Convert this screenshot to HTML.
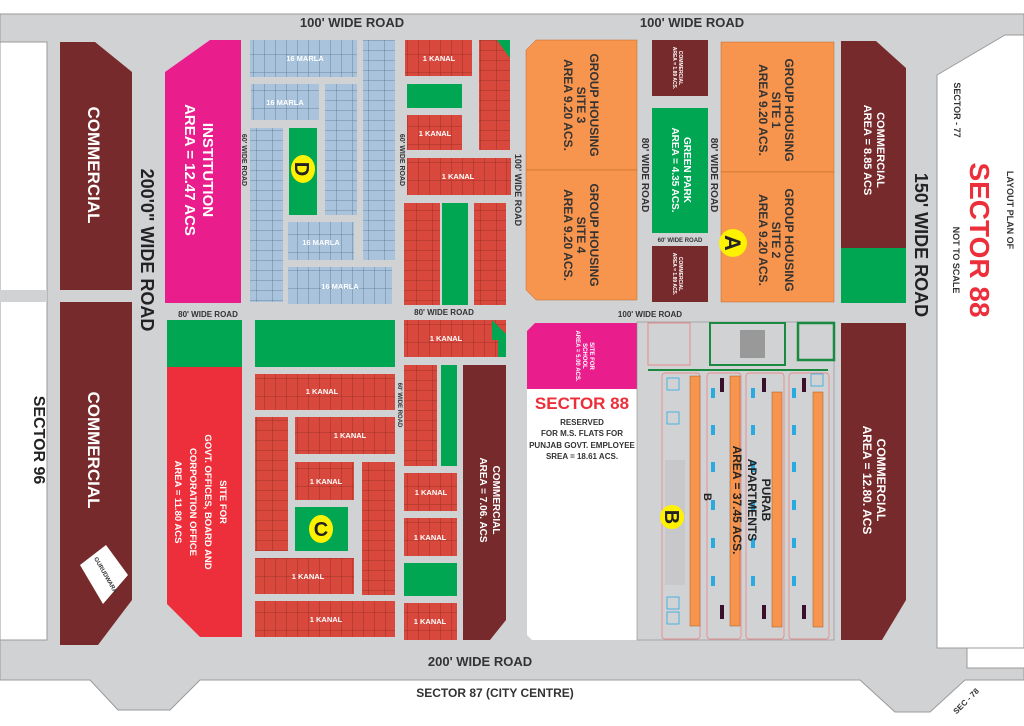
<!DOCTYPE html>
<html><head><meta charset="utf-8"><style>
html,body{margin:0;padding:0;background:#fff;}
svg{display:block}
text{font-family:"Liberation Sans",sans-serif;font-weight:bold}
</style></head><body>
<svg width="1024" height="726" viewBox="0 0 1024 726" xmlns="http://www.w3.org/2000/svg">
<defs>
<pattern id="rp" width="11" height="18" patternUnits="userSpaceOnUse"><rect width="11" height="18" fill="#d8483c"/><path d="M0 0H11M0 0V18" stroke="#8e2b22" stroke-width="0.8"/></pattern>
<pattern id="bp" width="11" height="18" patternUnits="userSpaceOnUse"><rect width="11" height="18" fill="#a8c3db"/><path d="M0 0H11M0 0V18" stroke="#55758f" stroke-width="0.8"/></pattern>
<pattern id="rpv" width="16" height="10" patternUnits="userSpaceOnUse"><rect width="16" height="10" fill="#d8483c"/><path d="M0 0H16M0 0V10" stroke="#8e2b22" stroke-width="0.8"/></pattern>
<pattern id="bpv" width="16" height="10" patternUnits="userSpaceOnUse"><rect width="16" height="10" fill="#a8c3db"/><path d="M0 0H16M0 0V10" stroke="#55758f" stroke-width="0.8"/></pattern>
</defs>
<rect width="1024" height="726" fill="#fff"/>
<polygon points="0,14 1024,14 1024,648 967,648 967,668 1024,668 1024,680 965,680 930,712 895,712 860,680 200,680 170,710 118,710 90,680 0,680" fill="#d1d2d4" stroke="#9a9a9a" stroke-width="1"/>
<rect x="0" y="42" width="47" height="598" fill="#fff" stroke="#9a9a9a"/>
<rect x="0" y="290" width="47" height="12" fill="#d1d2d4"/>
<polygon points="937,75 1005,35 1024,35 1024,648 937,648" fill="#fff" stroke="#9a9a9a"/>

<polygon points="60,42 95,42 132,72 132,290 60,290" fill="#772a2b"/>
<polygon points="60,302 132,302 132,600 98,645 60,645" fill="#772a2b"/>
<polygon points="80,565 106,545 128,575 103,604" fill="#fff"/>
<text transform="translate(104,576) rotate(60)" font-size="6" fill="#333" text-anchor="middle">GURUDWARA</text>
<text transform="translate(88,165) rotate(90)" font-size="17" fill="#fff" text-anchor="middle">COMMERCIAL</text>
<text transform="translate(88,450) rotate(90)" font-size="17" fill="#fff" text-anchor="middle">COMMERCIAL</text>
<text transform="translate(34,440) rotate(90)" font-size="16" fill="#222" text-anchor="middle">SECTOR 96</text>
<text transform="translate(141,250) rotate(90)" font-size="18" fill="#222" text-anchor="middle">200'0" WIDE ROAD</text>

<polygon points="210,40 241,40 241,303 165,303 165,72" fill="#e91e8c"/>
<text transform="translate(203,170) rotate(90)" font-size="15" fill="#fff" text-anchor="middle">INSTITUTION</text>
<text transform="translate(185,170) rotate(90)" font-size="15" fill="#fff" text-anchor="middle">AREA = 12.47 ACS</text>
<rect x="167" y="320" width="75" height="47" fill="#00a651"/>
<polygon points="167,367 242,367 242,637 200,637 167,604" fill="#ec2f3a"/>
<text transform="translate(220,502) rotate(90)" font-size="9.5" fill="#fff" text-anchor="middle">SITE FOR</text>
<text transform="translate(205,502) rotate(90)" font-size="9.5" fill="#fff" text-anchor="middle">GOVT. OFFICES, BOARD AND</text>
<text transform="translate(190,502) rotate(90)" font-size="9.5" fill="#fff" text-anchor="middle">CORPORATION OFFICE</text>
<text transform="translate(175,502) rotate(90)" font-size="9.5" fill="#fff" text-anchor="middle">AREA = 11.80 ACS</text>

<rect x="250" y="40" width="107" height="37" fill="url(#bp)"/>
<rect x="363" y="40" width="32" height="220" fill="url(#bpv)"/>
<rect x="251" y="84" width="68" height="36" fill="url(#bp)"/>
<rect x="325" y="84" width="32" height="131" fill="url(#bpv)"/>
<rect x="250" y="128" width="33" height="174" fill="url(#bpv)"/>
<rect x="289" y="128" width="28" height="87" fill="#00a651"/>
<rect x="288" y="222" width="66" height="38" fill="url(#bp)"/>
<rect x="288" y="267" width="104" height="37" fill="url(#bp)"/>
<g font-size="7.5" fill="#fff" text-anchor="middle">
<text x="305" y="61">16 MARLA</text><text x="285" y="105">16 MARLA</text><text x="321" y="245">16 MARLA</text><text x="340" y="289">16 MARLA</text>
</g>
<ellipse cx="303" cy="169" rx="12" ry="14" fill="#fff200"/>
<text x="303" y="177" font-size="20" fill="#222" text-anchor="middle" transform="rotate(90 303 169)">D</text>

<rect x="405" y="40" width="67" height="36" fill="url(#rp)"/>
<rect x="479" y="40" width="31" height="110" fill="url(#rpv)"/>
<polygon points="497,40 510,40 510,58" fill="#00a651"/>
<rect x="407" y="84" width="55" height="24" fill="#00a651"/>
<rect x="407" y="115" width="55" height="35" fill="url(#rp)"/>
<rect x="407" y="158" width="104" height="37" fill="url(#rp)"/>
<rect x="404" y="203" width="36" height="102" fill="url(#rpv)"/>
<rect x="442" y="203" width="26" height="102" fill="#00a651"/>
<rect x="474" y="203" width="32" height="102" fill="url(#rpv)"/>
<g font-size="7.5" fill="#fff" text-anchor="middle">
<text x="439" y="61">1 KANAL</text><text x="435" y="136">1 KANAL</text><text x="458" y="179">1 KANAL</text>
</g>

<rect x="255" y="320" width="140" height="47" fill="#00a651"/>
<rect x="255" y="374" width="140" height="36" fill="url(#rp)"/>
<rect x="255" y="417" width="33" height="134" fill="url(#rpv)"/>
<rect x="295" y="417" width="100" height="37" fill="url(#rp)"/>
<rect x="295" y="462" width="59" height="38" fill="url(#rp)"/>
<rect x="295" y="507" width="53" height="44" fill="#00a651"/>
<rect x="362" y="462" width="33" height="133" fill="url(#rpv)"/>
<rect x="255" y="558" width="99" height="36" fill="url(#rp)"/>
<rect x="255" y="601" width="140" height="36" fill="url(#rp)"/>
<rect x="404" y="320" width="102" height="37" fill="url(#rp)"/>
<polygon points="492,320 506,334 506,357 498,357 498,340 492,340" fill="#00a651"/>
<rect x="404" y="365" width="33" height="101" fill="url(#rpv)"/>
<rect x="441" y="365" width="16" height="101" fill="#00a651"/>
<rect x="404" y="473" width="53" height="38" fill="url(#rp)"/>
<rect x="404" y="518" width="53" height="38" fill="url(#rp)"/>
<rect x="404" y="563" width="53" height="33" fill="#00a651"/>
<rect x="404" y="603" width="53" height="37" fill="url(#rp)"/>
<polygon points="463,365 506,365 506,620 490,640 463,640" fill="#772a2b"/>
<text transform="translate(493,500) rotate(90)" font-size="10" fill="#fff" text-anchor="middle">COMMERCIAL</text>
<text transform="translate(480,500) rotate(90)" font-size="10" fill="#fff" text-anchor="middle">AREA = 7.06. ACS</text>
<g font-size="7.5" fill="#fff" text-anchor="middle">
<text x="322" y="394">1 KANAL</text><text x="350" y="438">1 KANAL</text><text x="326" y="484">1 KANAL</text><text x="308" y="579">1 KANAL</text><text x="326" y="622">1 KANAL</text>
<text x="446" y="341">1 KANAL</text><text x="431" y="495">1 KANAL</text><text x="430" y="540">1 KANAL</text><text x="430" y="624">1 KANAL</text>
</g>
<ellipse cx="321" cy="529" rx="12" ry="14" fill="#fff200"/>
<text x="321" y="536" font-size="20" fill="#222" text-anchor="middle">C</text>

<polygon points="536,40 637,40 637,170 526,170 526,50" fill="#f7944d" stroke="#c06a2a" stroke-width="0.5"/>
<polygon points="526,170 637,170 637,300 536,300 526,290" fill="#f7944d" stroke="#c06a2a" stroke-width="0.5"/>
<rect x="721" y="42" width="113" height="130" fill="#f7944d" stroke="#c06a2a" stroke-width="0.5"/>
<rect x="721" y="172" width="113" height="130" fill="#f7944d" stroke="#c06a2a" stroke-width="0.5"/>
<g font-size="12" fill="#333" text-anchor="middle">
<text transform="translate(590,105) rotate(90)">GROUP HOUSING</text><text transform="translate(577,105) rotate(90)">SITE 3</text><text transform="translate(564,105) rotate(90)">AREA 9.20 ACS.</text>
<text transform="translate(590,235) rotate(90)">GROUP HOUSING</text><text transform="translate(577,235) rotate(90)">SITE 4</text><text transform="translate(564,235) rotate(90)">AREA 9.20 ACS.</text>
<text transform="translate(785,110) rotate(90)">GROUP HOUSING</text><text transform="translate(772,110) rotate(90)">SITE 1</text><text transform="translate(759,110) rotate(90)">AREA 9.20 ACS.</text>
<text transform="translate(785,240) rotate(90)">GROUP HOUSING</text><text transform="translate(772,240) rotate(90)">SITE 2</text><text transform="translate(759,240) rotate(90)">AREA 9.20 ACS.</text>
</g>
<rect x="652" y="40" width="56" height="56" fill="#772a2b"/>
<rect x="652" y="108" width="56" height="125" fill="#00a651"/>
<rect x="652" y="246" width="56" height="56" fill="#772a2b"/>
<g fill="#fff" text-anchor="middle">
<text transform="translate(679,68) rotate(90)" font-size="5">COMMERCIAL</text><text transform="translate(673,68) rotate(90)" font-size="5">AREA = 1.89 ACS.</text>
<text transform="translate(679,274) rotate(90)" font-size="5">COMMERCIAL</text><text transform="translate(673,274) rotate(90)" font-size="5">AREA = 1.89 ACS.</text>
<text transform="translate(684,170) rotate(90)" font-size="10">GREEN PARK</text><text transform="translate(672,170) rotate(90)" font-size="10">AREA = 4.35 ACS.</text>
</g>
<g fill="#333" text-anchor="middle">
<text x="680" y="242" font-size="6">60' WIDE ROAD</text>
<text transform="translate(642,175) rotate(90)" font-size="10">80' WIDE ROAD</text>
<text transform="translate(711,175) rotate(90)" font-size="10">80' WIDE ROAD</text>
</g>
<circle cx="733" cy="243" r="14" fill="#fff200"/>
<text x="733" y="251" font-size="22" fill="#222" text-anchor="middle" transform="rotate(90 733 243)">A</text>

<polygon points="841,41 876,41 906,68 906,303 841,303" fill="#772a2b"/>
<rect x="841" y="248" width="65" height="55" fill="#00a651"/>
<polygon points="841,323 906,323 906,600 882,640 841,640" fill="#772a2b"/>
<text transform="translate(877,150) rotate(90)" font-size="11" fill="#fff" text-anchor="middle">COMMERCIAL</text>
<text transform="translate(864,150) rotate(90)" font-size="11" fill="#fff" text-anchor="middle">AREA = 8.85 ACS</text>
<text transform="translate(877,480) rotate(90)" font-size="12" fill="#fff" text-anchor="middle">COMMERCIAL</text>
<text transform="translate(863,480) rotate(90)" font-size="12" fill="#fff" text-anchor="middle">AREA = 12.80. ACS</text>
<text transform="translate(915,245) rotate(90)" font-size="18" fill="#222" text-anchor="middle">150' WIDE ROAD</text>
<text transform="translate(954,110) rotate(90)" font-size="9" fill="#333" text-anchor="middle">SECTOR - 77</text>
<text transform="translate(1007,210) rotate(90)" font-size="9" fill="#333" text-anchor="middle">LAYOUT PLAN OF</text>
<text transform="translate(970,240) rotate(90)" font-size="28" fill="#ec2f3a" text-anchor="middle">SECTOR 88</text>
<text transform="translate(953,260) rotate(90)" font-size="9" fill="#333" text-anchor="middle">NOT TO SCALE</text>

<polygon points="535,323 637,323 637,389 527,389 527,331" fill="#e91e8c"/>
<polygon points="527,389 637,389 637,640 532,640 527,635" fill="#fff"/>
<g fill="#fff" text-anchor="middle" font-size="6"><text transform="translate(590,356) rotate(90)">SITE FOR</text><text transform="translate(583,356) rotate(90)">SCHOOL</text><text transform="translate(576,356) rotate(90)">AREA = 5.00 ACS.</text></g>
<text x="582" y="409" font-size="17" fill="#ec2f3a" text-anchor="middle">SECTOR 88</text>
<g font-size="8" fill="#333" text-anchor="middle"><text x="582" y="425">RESERVED</text><text x="582" y="436">FOR M.S. FLATS FOR</text><text x="582" y="448">PUNJAB GOVT. EMPLOYEE</text><text x="582" y="459">SREA = 18.61 ACS.</text></g>

<rect x="637" y="322" width="197" height="318" fill="#d1d2d4" stroke="#888" stroke-width="0.6"/>
<rect x="648" y="323" width="42" height="42" fill="none" stroke="#e77" stroke-width="0.8"/>
<rect x="710" y="323" width="75" height="42" fill="none" stroke="#1a8a40" stroke-width="2"/>
<rect x="740" y="330" width="25" height="28" fill="#999"/>
<rect x="798" y="323" width="36" height="37" fill="none" stroke="#1a8a40" stroke-width="2.5"/>
<rect x="648" y="369" width="180" height="2" fill="#1a8a40"/>
<g fill="none" stroke="#e77" stroke-width="0.7">
<rect x="662" y="373" width="38" height="266" rx="3"/><rect x="707" y="373" width="34" height="266" rx="3"/><rect x="746" y="373" width="38" height="266" rx="3"/><rect x="789" y="373" width="40" height="266" rx="3"/>
</g>
<rect x="665" y="460" width="20" height="125" fill="#c8c8ca"/>
<g fill="#f7944d" stroke="#a25a20" stroke-width="0.5">
<rect x="690" y="376" width="10" height="250"/><rect x="730" y="376" width="10" height="250"/><rect x="772" y="392" width="10" height="235"/><rect x="813" y="392" width="10" height="235"/>
</g>
<g fill="#29abe2">
<rect x="711" y="388" width="4" height="10"/><rect x="711" y="425" width="4" height="10"/><rect x="711" y="462" width="4" height="10"/><rect x="711" y="500" width="4" height="10"/><rect x="711" y="538" width="4" height="10"/><rect x="711" y="576" width="4" height="10"/>
<rect x="751" y="388" width="4" height="10"/><rect x="751" y="425" width="4" height="10"/><rect x="751" y="462" width="4" height="10"/><rect x="751" y="500" width="4" height="10"/><rect x="751" y="538" width="4" height="10"/><rect x="751" y="576" width="4" height="10"/>
<rect x="792" y="388" width="4" height="10"/><rect x="792" y="425" width="4" height="10"/><rect x="792" y="462" width="4" height="10"/><rect x="792" y="500" width="4" height="10"/><rect x="792" y="538" width="4" height="10"/><rect x="792" y="576" width="4" height="10"/>
</g>
<g fill="#3a0f2a"><rect x="720" y="378" width="4" height="14"/><rect x="762" y="378" width="4" height="14"/><rect x="802" y="378" width="4" height="14"/><rect x="720" y="605" width="4" height="14"/><rect x="762" y="605" width="4" height="14"/><rect x="802" y="605" width="4" height="14"/></g>
<g fill="none" stroke="#29abe2" stroke-width="0.8"><rect x="667" y="378" width="12" height="12"/><rect x="667" y="412" width="12" height="12"/><rect x="667" y="597" width="12" height="12"/><rect x="667" y="612" width="12" height="12"/><rect x="811" y="374" width="12" height="12"/></g>
<text transform="translate(762,500) rotate(90)" font-size="12" fill="#222" text-anchor="middle">PURAB</text>
<text transform="translate(748,500) rotate(90)" font-size="12" fill="#222" text-anchor="middle">APARTMENTS</text>
<text transform="translate(733,500) rotate(90)" font-size="12" fill="#222" text-anchor="middle">AREA = 37.45 ACS.</text>
<text transform="translate(704,497) rotate(90)" font-size="11" fill="#222" text-anchor="middle">B</text>
<circle cx="672" cy="517" r="12" fill="#fff200"/>
<text x="672" y="524" font-size="20" fill="#222" text-anchor="middle" transform="rotate(90 672 517)">B</text>

<g fill="#333" text-anchor="middle">
<text x="352" y="27" font-size="13">100' WIDE ROAD</text>
<text x="692" y="27" font-size="13">100' WIDE ROAD</text>
<text x="208" y="317" font-size="8">80' WIDE ROAD</text>
<text x="444" y="315" font-size="8">80' WIDE ROAD</text>
<text x="650" y="317" font-size="8">100' WIDE ROAD</text>
<text transform="translate(515,190) rotate(90)" font-size="9">100' WIDE ROAD</text>
<text transform="translate(242,160) rotate(90)" font-size="7">60' WIDE ROAD</text>
<text transform="translate(400,160) rotate(90)" font-size="7">60' WIDE ROAD</text>
<text transform="translate(398,405) rotate(90)" font-size="6">60' WIDE ROAD</text>
<text x="480" y="666" font-size="13">200' WIDE ROAD</text>
<text x="495" y="697" font-size="12">SECTOR 87 (CITY CENTRE)</text>
<text transform="translate(968,703) rotate(-45)" font-size="8">SEC - 78</text>
</g>
</svg>
</body></html>
